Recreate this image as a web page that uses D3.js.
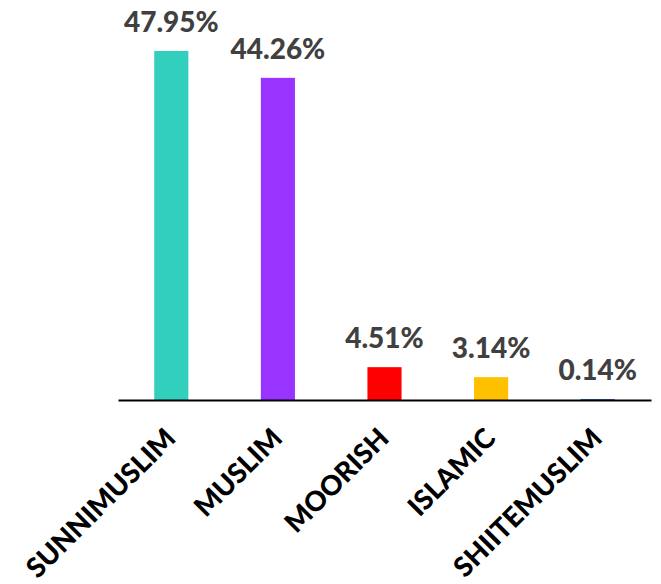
<!DOCTYPE html>
<html>
<head>
<meta charset="utf-8">
<script src="https://cdn.jsdelivr.net/npm/d3@7/dist/d3.min.js"></script>
<style>
  html, body { margin: 0; padding: 0; background: #fff; }
  svg text { font-family: Lato, "Open Sans", sans-serif; font-weight: 900; }
</style>
</head>
<body>
<svg id="chart" width="661" height="584"></svg>
<script>
// Share of each category, in percent
const categories = ["SUNNIMUSLIM", "MUSLIM", "MOORISH", "ISLAMIC", "SHIITEMUSLIM"];
const values = [47.95, 44.26, 4.51, 3.14, 0.14];
const colors = ["#33CFBD", "#9933FF", "#FF0000", "#FFC000", "#4472C4"];

const svg = d3.select("#chart");
const baseline = 400;

const x = d3.scaleBand()
  .domain(categories)
  .range([118, 651])
  .paddingInner(0.68)
  .paddingOuter(0.34);

const y = d3.scaleLinear()
  .domain([0, 47.95])
  .range([baseline, 51]);

// bars
svg.append("g").selectAll("rect")
  .data(categories)
  .join("rect")
  .attr("x", d => x(d))
  .attr("width", x.bandwidth())
  .attr("y", (d, i) => y(values[i]))
  .attr("height", (d, i) => baseline - y(values[i]))
  .attr("fill", (d, i) => colors[i]);

// value labels above the bars
svg.append("g").selectAll("text")
  .data(categories)
  .join("text")
  .attr("x", d => x(d) + x.bandwidth() / 2)
  .attr("y", (d, i) => y(values[i]) - 19)
  .attr("text-anchor", "middle")
  .attr("font-size", 28)
  .attr("fill", "#404040")
  .text((d, i) => values[i].toFixed(2) + "%");

// category axis
const axis = svg.append("g")
  .attr("transform", `translate(0,${baseline})`)
  .call(d3.axisBottom(x).tickSize(0).tickSizeOuter(0));
axis.select(".domain")
  .attr("stroke", "#000")
  .attr("stroke-width", 2);
axis.selectAll(".tick text")
  .attr("font-size", 27.5)
  .attr("fill", "#000")
  .attr("text-anchor", "end")
  .attr("dy", null)
  .attr("y", 0)
  .attr("transform", "translate(6,40) rotate(-45)");
</script>
</body>
</html>
